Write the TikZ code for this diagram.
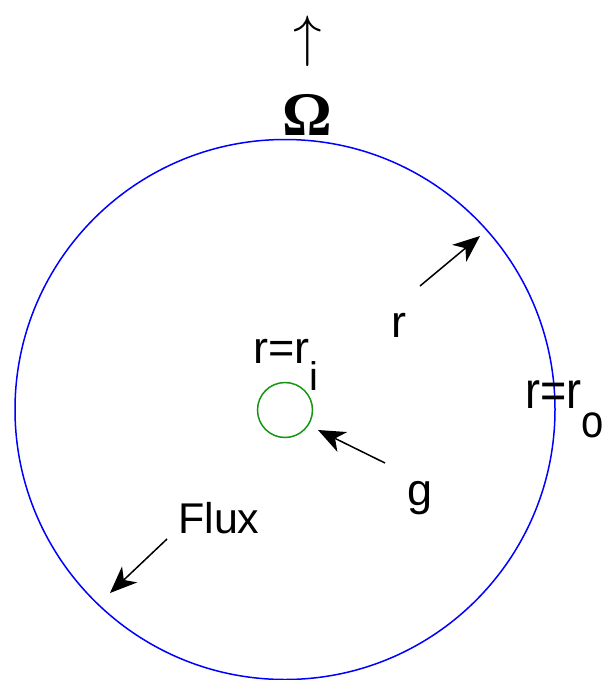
\documentclass[tikz,border=0pt]{standalone}
\usepackage{graphicx}
\usepackage{fontspec}
\newfontfamily\labelfont{Liberation Sans}
\newfontfamily\omegafont{Liberation Serif}
\usetikzlibrary{arrows.meta}
\definecolor{ringblue}{RGB}{0,0,255}
\definecolor{ringgreen}{RGB}{20,150,20}
\tikzset{
  ptr/.style={line width=1.5pt, -{Stealth[length=27pt,width=22pt,inset=8pt]}},
  lbl/.style={inner sep=0pt, font=\labelfont\fontsize{45}{50}\selectfont},
}
\begin{document}
\begin{tikzpicture}[x=1pt,y=-1pt]
\useasboundingbox (0,0) rectangle (606,680);
% circles
\node[circle, draw=ringblue, line width=1.5pt, minimum size=540pt, inner sep=0pt] (outer) at (285,409.5) {};
\node[circle, draw=ringgreen, line width=1.5pt, minimum size=55pt, inner sep=0pt] (inner) at (285,410) {};
% top symbols
\node[inner sep=0pt] (up) at (308,41) {\scalebox{5.7}{$\uparrow$}};
\node[inner sep=0pt, anchor=base, font=\omegafont\bfseries\fontsize{62}{64}\selectfont] (omega) at (307,135) {Ω};
% labels
\node[lbl, anchor=base] (rlab) at (399,337) {r};
\node[lbl, anchor=base west] (ri) at (253,363) {r=r\raisebox{-27pt}{\fontsize{40}{40}\selectfont i}};
\node[lbl, anchor=base west, yscale=1.15] (ro) at (525,408) {r=r\raisebox{-26pt}{\fontsize{40}{40}\selectfont o}};
\node[lbl, anchor=base] (glab) at (420,505) {g};
\node[lbl, anchor=base west, font=\labelfont\fontsize{43}{48}\selectfont] (flux) at (178,533) {Flux};
% arrow coordinates
\coordinate (rfrom) at (420,286);
\coordinate (rto) at (480,236);
\coordinate (gfrom) at (385,463);
\coordinate (gto) at (318,430);
\coordinate (ffrom) at (167,539);
\coordinate (fto) at (110,593);
\draw[ptr] (rfrom) -- (rto);
\draw[ptr] (gfrom) -- (gto);
\draw[ptr] (ffrom) -- (fto);
\end{tikzpicture}
\end{document}
